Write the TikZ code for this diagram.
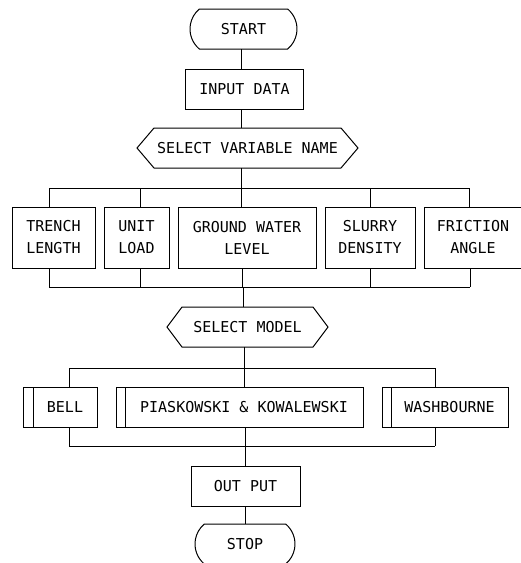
\documentclass[tikz,border=0pt]{standalone}
\usepackage{fontspec}
\setmonofont{DejaVu Sans Mono}
\usetikzlibrary{shapes.misc}
\begin{document}
\begin{tikzpicture}[x=1pt,y=-1pt,line width=1pt,
  every node/.style={font=\ttfamily\fontsize{15}{22}\selectfont,inner sep=0pt,outer sep=0pt},
  box/.style={draw,rectangle,align=center},
  term/.style={draw,rounded rectangle,rounded rectangle arc length=100},
  hexbox/.style={rectangle,align=center},
  conn/.style={draw}]
\useasboundingbox (0,0) rectangle (521,563);

% flow top
\node[term,minimum width=107pt,minimum height=40pt] (start) at (243.5,29) {START};
\node[box,minimum width=118pt,minimum height=40pt] (input) at (244.5,89) {INPUT DATA};
\node[hexbox,minimum width=187pt,minimum height=40pt] (svn) at (247.5,148) {SELECT VARIABLE NAME};
\draw (svn.north west) -- (svn.north east) -- ([xshift=17pt]svn.east) -- (svn.south east)
      -- (svn.south west) -- ([xshift=-17pt]svn.west) -- cycle;

% variables
\node[box,minimum width=83pt,minimum height=61pt] (trench) at (53.5,237.5) {TRENCH\\LENGTH};
\node[box,minimum width=65pt,minimum height=61pt] (unit) at (136.5,237.5) {UNIT\\LOAD};
\node[box,minimum width=138pt,minimum height=61pt] (gwl) at (247,237.5) {GROUND WATER\\LEVEL};
\node[box,minimum width=90pt,minimum height=61pt] (slurry) at (370,237.5) {SLURRY\\DENSITY};
\node[box,minimum width=98pt,minimum height=61pt] (fric) at (473,237.5) {FRICTION\\ANGLE};

\node[hexbox,minimum width=131pt,minimum height=40pt] (sm) at (247.5,327) {SELECT MODEL};
\draw (sm.north west) -- (sm.north east) -- ([xshift=15pt]sm.east) -- (sm.south east)
      -- (sm.south west) -- ([xshift=-15pt]sm.west) -- cycle;

% models
\node[box,minimum width=64pt,minimum height=40pt] (bell) at (65,407) {BELL};
\draw ([xshift=-10pt]bell.north west) rectangle (bell.south west);
\node[box,minimum width=238pt,minimum height=40pt] (pk) at (244,407) {PIASKOWSKI \& KOWALEWSKI};
\draw ([xshift=-9pt]pk.north west) rectangle (pk.south west);
\node[box,minimum width=117pt,minimum height=40pt] (wash) at (449.5,407) {WASHBOURNE};
\draw ([xshift=-9pt]wash.north west) rectangle (wash.south west);

\node[box,minimum width=109pt,minimum height=40pt] (out) at (245.5,486) {OUT PUT};
\node[term,minimum width=100pt,minimum height=40pt] (stop) at (245,544) {STOP};

% spine coordinates
\coordinate (s1) at (241,0);
\coordinate (s2) at (243,0);
\coordinate (s3) at (245,0);

\draw[conn] (s1 |- start.south) -- (s1 |- input.north);
\draw[conn] (s1 |- input.south) -- (s1 |- svn.north);

% top bus
\coordinate (tb1) at (49,188);
\coordinate (tb2) at (140,188);
\coordinate (tb3) at (241,188);
\coordinate (tb4) at (370,188);
\coordinate (tb5) at (469,188);
\draw[conn] (tb3 |- svn.south) -- (tb3);
\draw[conn] (tb1) -- (tb5);
\draw[conn] (tb1) -- (tb1 |- trench.north);
\draw[conn] (tb2) -- (tb2 |- unit.north);
\draw[conn] (tb3) -- (tb3 |- gwl.north);
\draw[conn] (tb4) -- (tb4 |- slurry.north);
\draw[conn] (tb5) -- (tb5 |- fric.north);

% bottom bus
\coordinate (bb1) at (49,287);
\coordinate (bb2) at (140,287);
\coordinate (bb3) at (242,287);
\coordinate (bb4) at (370,287);
\coordinate (bb5) at (470,287);
\draw[conn] (bb1) -- (bb5);
\draw[conn] (bb1 |- trench.south) -- (bb1);
\draw[conn] (bb2 |- unit.south) -- (bb2);
\draw[conn] (bb3 |- gwl.south) -- (bb3);
\draw[conn] (bb4 |- slurry.south) -- (bb4);
\draw[conn] (bb5 |- fric.south) -- (bb5);
\draw[conn] (s2 |- bb3) -- (s2 |- sm.north);

% model buses
\coordinate (mt1) at (69,368);
\coordinate (mt2) at (244,368);
\coordinate (mt3) at (435,368);
\draw[conn] (mt2 |- sm.south) -- (mt2);
\draw[conn] (mt1) -- (mt3);
\draw[conn] (mt1) -- (mt1 |- bell.north);
\draw[conn] (mt2) -- (mt2 |- pk.north);
\draw[conn] (mt3) -- (mt3 |- wash.north);

\coordinate (mb1) at (69,446);
\coordinate (mb2) at (245,446);
\coordinate (mb3) at (435,446);
\draw[conn] (mb1) -- (mb3);
\draw[conn] (mb1 |- bell.south) -- (mb1);
\draw[conn] (mb2 |- pk.south) -- (mb2);
\draw[conn] (mb3 |- wash.south) -- (mb3);
\draw[conn] (mb2) -- (mb2 |- out.north);
\draw[conn] (s3 |- out.south) -- (s3 |- stop.north);
\end{tikzpicture}
\end{document}
